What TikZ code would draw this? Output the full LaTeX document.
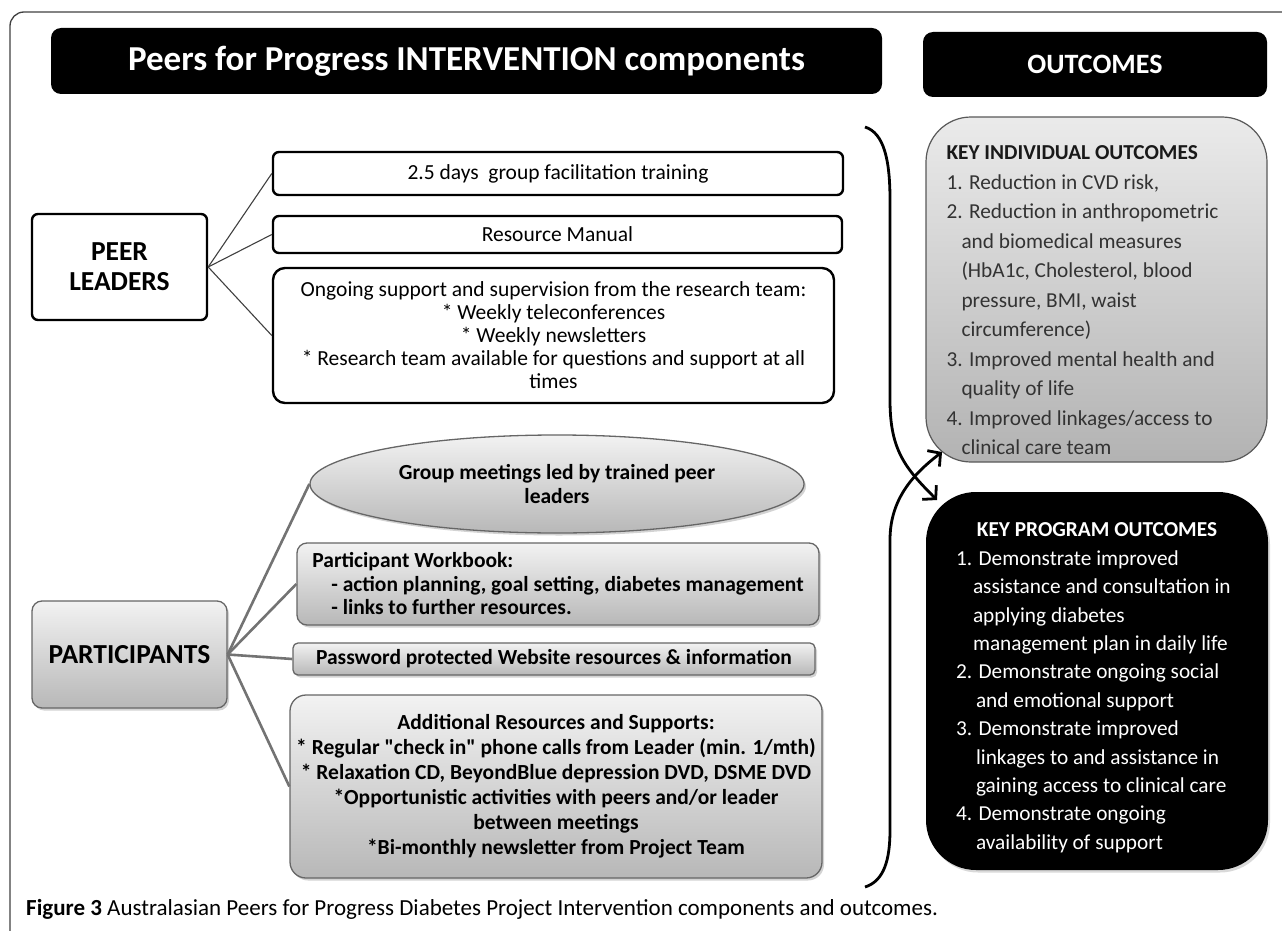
\documentclass[tikz,border=0pt]{standalone}
\usepackage{fontspec}
\setmainfont{Carlito}[Ligatures=TeXOff]
\usetikzlibrary{arrows.meta,shapes.geometric,shadows}

\begin{document}
\begin{tikzpicture}
      [%%%%%%%%%%%%%%%%%%%%%%%%%%%%%%
      x=1pt,y=-1pt,
      header/.style={rectangle,rounded corners=10pt,fill=black,text=white,inner sep=0pt},
      peerbox/.style={rectangle,draw=black,line width=2.4pt,rounded corners=6pt,fill=white,
        align=center,inner sep=0pt,font=\fontsize{21.5}{23}\selectfont},
      partbox/.style={rectangle,draw=black!60,line width=1.3pt,rounded corners=10pt,
        top color=black!5,bottom color=black!28,
        drop shadow={opacity=0.35,shadow xshift=2pt,shadow yshift=-2.5pt},
        align=center,inner sep=0pt,font=\fontsize{21.5}{23.5}\selectfont\bfseries},
      indivbox/.style={rectangle,draw=black!65,line width=1.2pt,rounded corners=45pt,
        top color=black!8,bottom color=black!30,text=black!80,inner sep=0pt,
        minimum width=341pt,minimum height=345pt,font=\fontsize{21.3}{29.5}\selectfont},
      progbox/.style={rectangle,fill=black,rounded corners=50pt,text=white,inner sep=0pt,
        drop shadow={opacity=0.3,shadow xshift=2pt,shadow yshift=-2.5pt},
        minimum width=342pt,minimum height=378pt,font=\fontsize{21.3}{28.4}\selectfont},
      peerlink/.style={draw=black!75,line width=1.1pt},
      partlink/.style={draw=black!55,line width=2.6pt},
      bigarrow/.style={line width=2.8pt,-{Straight Barb[length=9pt,width=20pt]}},
      ]%%%%%%%%%%%%%%%%%%%%%%%%%%%%%%

      \useasboundingbox (0,0) rectangle (1282,931);
      \draw[black!75,line width=1.3pt,rounded corners=14pt] (10,931) |- (1282,12);

      % headers
      \node[header,minimum width=831pt,minimum height=66pt,font=\fontsize{35}{40}\selectfont\bfseries] (title) at (466.5,61) {Peers for Progress INTERVENTION components};
      \node[header,minimum width=344pt,minimum height=65pt,font=\fontsize{28}{32}\selectfont\bfseries] (outhead) at (1095,64.5) {OUTCOMES};

      % peer leaders
      \node[peerbox,minimum width=175pt,minimum height=106pt,font=\fontsize{27.5}{30}\selectfont\bfseries] (peer) at (119.5,267) {PEER\\LEADERS};
      \node[peerbox,minimum width=570pt,minimum height=43pt] (train) at (558,173.5) {2.5 days\ \ group facilitation training};
      \node[peerbox,minimum width=569pt,minimum height=37pt] (manual) at (557.5,234.5) {Resource Manual};
      \node[peerbox,minimum width=561pt,minimum height=135pt,rounded corners=12pt] (ongoing) at (553.5,335.5) {Ongoing support and supervision from the research team:\\{}* Weekly teleconferences\\{}* Weekly newsletters\\{}* Research team available for questions and support at all\\times};

      \draw[peerlink] (peer.east) -- (train.west);
      \draw[peerlink] (peer.east) -- (manual.west);
      \draw[peerlink] (peer.east) -- (ongoing.west);

      % participants
      \node[partbox,minimum width=195pt,minimum height=107pt,font=\fontsize{27.5}{30}\selectfont\bfseries] (part) at (129.5,654.5) {PARTICIPANTS};
      \node[partbox,ellipse,minimum width=494pt,minimum height=98pt] (group) at (557,484) {Group meetings led by trained peer\\leaders};
      \node[partbox,minimum width=522pt,minimum height=82pt,align=left] (workbook) at (558,584) {Participant Workbook:\\\hspace*{19pt}- action planning, goal setting, diabetes management\\\hspace*{19pt}- links to further resources.};
      \node[partbox,minimum width=522pt,minimum height=32pt,rounded corners=5pt] (password) at (554,659) {Password protected Website resources \& information};
      \node[partbox,minimum width=532pt,minimum height=183pt,rounded corners=16pt,font=\fontsize{21.5}{25}\selectfont\bfseries] (extra) at (556,786.5) {Additional Resources and Supports:\\{}* Regular "check in" phone calls from Leader (min. 1/mth)\\{}* Relaxation CD, BeyondBlue depression DVD, DSME DVD\\{}*Opportunistic activities with peers and/or leader\\between meetings\\{}*Bi-monthly newsletter from Project Team};

      \foreach \n in {group,workbook,password,extra}
        \draw[partlink] (part.east) -- (\n.west);

      % outcomes
      \node[indivbox] (indiv) at (1096.5,289.5) {\parbox[c][345pt][t]{300pt}{\vspace*{29pt}%
        \textbf{\color{black!90}KEY INDIVIDUAL OUTCOMES}\\
        1. Reduction in CVD risk,\\
        2. Reduction in anthropometric\\
        \hspace*{15pt}and biomedical measures\\
        \hspace*{15pt}(HbA1c, Cholesterol, blood\\
        \hspace*{15pt}pressure, BMI, waist\\
        \hspace*{15pt}circumference)\\
        3. Improved mental health and\\
        \hspace*{15pt}quality of life\\
        4. Improved linkages/access to\\
        \hspace*{15pt}clinical care team}};
      \node[progbox] (prog) at (1097,681) {\parbox[c][378pt][t]{282pt}{\vspace*{31pt}%
        \makebox[\linewidth]{\textbf{KEY PROGRAM OUTCOMES}}\\
        1. Demonstrate improved\\
        \hspace*{17pt}assistance and consultation in\\
        \hspace*{17pt}applying diabetes\\
        \hspace*{17pt}management plan in daily life\\
        2. Demonstrate ongoing social\\
        \hspace*{20pt}and emotional support\\
        3. Demonstrate improved\\
        \hspace*{20pt}linkages to and assistance in\\
        \hspace*{20pt}gaining access to clinical care\\
        4. Demonstrate ongoing\\
        \hspace*{20pt}availability of support}};

      % brace arrows
      \coordinate (topend) at (865,127);
      \coordinate (botend) at (865,887);
      \coordinate (indivtip) at (942,452);
      \coordinate (progtip) at (937,500);
      \draw[bigarrow] (topend) .. controls (884,133) and (890,160) .. (890,200) -- (890,400) .. controls (890,450) and (905,468) .. (progtip);
      \draw[bigarrow] (botend) .. controls (884,881) and (890,860) .. (890,830) -- (890,540) .. controls (890,500) and (912,475) .. (indivtip);

      % caption
      \node[anchor=base west,inner sep=0pt,font=\fontsize{23}{27}\selectfont] (caption) at (26,915) {\textbf{Figure 3} Australasian Peers for Progress Diabetes Project Intervention components and outcomes.};
    \end{tikzpicture}
\end{document}
